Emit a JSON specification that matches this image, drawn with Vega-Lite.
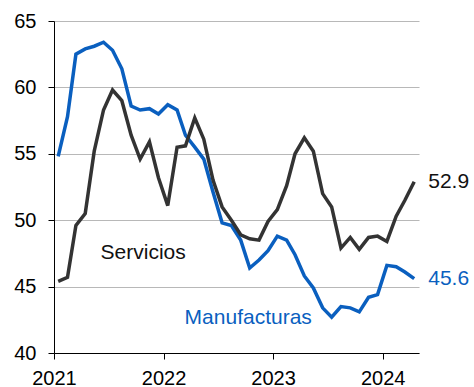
{
  "$schema": "https://vega.github.io/schema/vega-lite/v6.json",
  "width": 365,
  "height": 332,
  "autosize": {"type": "none"},
  "padding": {"left": 54, "top": 21, "right": 55, "bottom": 34},
  "config": {"view": {"stroke": null}, "font": "Liberation Sans"},
  "datasets": {
    "series": [
      {"date": "2021-01-15", "serie": "Manufacturas", "value": 54.8},
      {"date": "2021-02-15", "serie": "Manufacturas", "value": 57.8},
      {"date": "2021-03-15", "serie": "Manufacturas", "value": 62.5},
      {"date": "2021-04-15", "serie": "Manufacturas", "value": 62.9},
      {"date": "2021-05-15", "serie": "Manufacturas", "value": 63.1},
      {"date": "2021-06-15", "serie": "Manufacturas", "value": 63.4},
      {"date": "2021-07-15", "serie": "Manufacturas", "value": 62.8},
      {"date": "2021-08-15", "serie": "Manufacturas", "value": 61.4},
      {"date": "2021-09-15", "serie": "Manufacturas", "value": 58.6},
      {"date": "2021-10-15", "serie": "Manufacturas", "value": 58.3},
      {"date": "2021-11-15", "serie": "Manufacturas", "value": 58.4},
      {"date": "2021-12-15", "serie": "Manufacturas", "value": 58.0},
      {"date": "2022-01-15", "serie": "Manufacturas", "value": 58.7},
      {"date": "2022-02-15", "serie": "Manufacturas", "value": 58.3},
      {"date": "2022-03-15", "serie": "Manufacturas", "value": 56.4},
      {"date": "2022-04-15", "serie": "Manufacturas", "value": 55.5},
      {"date": "2022-05-15", "serie": "Manufacturas", "value": 54.6},
      {"date": "2022-06-15", "serie": "Manufacturas", "value": 52.1},
      {"date": "2022-07-15", "serie": "Manufacturas", "value": 49.8},
      {"date": "2022-08-15", "serie": "Manufacturas", "value": 49.6},
      {"date": "2022-09-15", "serie": "Manufacturas", "value": 48.5},
      {"date": "2022-10-15", "serie": "Manufacturas", "value": 46.4},
      {"date": "2022-11-15", "serie": "Manufacturas", "value": 47.0},
      {"date": "2022-12-15", "serie": "Manufacturas", "value": 47.7},
      {"date": "2023-01-15", "serie": "Manufacturas", "value": 48.8},
      {"date": "2023-02-15", "serie": "Manufacturas", "value": 48.5},
      {"date": "2023-03-15", "serie": "Manufacturas", "value": 47.4},
      {"date": "2023-04-15", "serie": "Manufacturas", "value": 45.8},
      {"date": "2023-05-15", "serie": "Manufacturas", "value": 44.9},
      {"date": "2023-06-15", "serie": "Manufacturas", "value": 43.4},
      {"date": "2023-07-15", "serie": "Manufacturas", "value": 42.7},
      {"date": "2023-08-15", "serie": "Manufacturas", "value": 43.5},
      {"date": "2023-09-15", "serie": "Manufacturas", "value": 43.4},
      {"date": "2023-10-15", "serie": "Manufacturas", "value": 43.1},
      {"date": "2023-11-15", "serie": "Manufacturas", "value": 44.2},
      {"date": "2023-12-15", "serie": "Manufacturas", "value": 44.4},
      {"date": "2024-01-15", "serie": "Manufacturas", "value": 46.6},
      {"date": "2024-02-15", "serie": "Manufacturas", "value": 46.5},
      {"date": "2024-03-15", "serie": "Manufacturas", "value": 46.1},
      {"date": "2024-04-15", "serie": "Manufacturas", "value": 45.6},
      {"date": "2021-01-15", "serie": "Servicios", "value": 45.4},
      {"date": "2021-02-15", "serie": "Servicios", "value": 45.7},
      {"date": "2021-03-15", "serie": "Servicios", "value": 49.6},
      {"date": "2021-04-15", "serie": "Servicios", "value": 50.5},
      {"date": "2021-05-15", "serie": "Servicios", "value": 55.2},
      {"date": "2021-06-15", "serie": "Servicios", "value": 58.3},
      {"date": "2021-07-15", "serie": "Servicios", "value": 59.8},
      {"date": "2021-08-15", "serie": "Servicios", "value": 59.0},
      {"date": "2021-09-15", "serie": "Servicios", "value": 56.4},
      {"date": "2021-10-15", "serie": "Servicios", "value": 54.6},
      {"date": "2021-11-15", "serie": "Servicios", "value": 55.9},
      {"date": "2021-12-15", "serie": "Servicios", "value": 53.2},
      {"date": "2022-01-15", "serie": "Servicios", "value": 51.1},
      {"date": "2022-02-15", "serie": "Servicios", "value": 55.5},
      {"date": "2022-03-15", "serie": "Servicios", "value": 55.6},
      {"date": "2022-04-15", "serie": "Servicios", "value": 57.7},
      {"date": "2022-05-15", "serie": "Servicios", "value": 56.1},
      {"date": "2022-06-15", "serie": "Servicios", "value": 53.0},
      {"date": "2022-07-15", "serie": "Servicios", "value": 51.0},
      {"date": "2022-08-15", "serie": "Servicios", "value": 50.0},
      {"date": "2022-09-15", "serie": "Servicios", "value": 48.9},
      {"date": "2022-10-15", "serie": "Servicios", "value": 48.6},
      {"date": "2022-11-15", "serie": "Servicios", "value": 48.5},
      {"date": "2022-12-15", "serie": "Servicios", "value": 49.9},
      {"date": "2023-01-15", "serie": "Servicios", "value": 50.8},
      {"date": "2023-02-15", "serie": "Servicios", "value": 52.6},
      {"date": "2023-03-15", "serie": "Servicios", "value": 55.0},
      {"date": "2023-04-15", "serie": "Servicios", "value": 56.2},
      {"date": "2023-05-15", "serie": "Servicios", "value": 55.2},
      {"date": "2023-06-15", "serie": "Servicios", "value": 52.0},
      {"date": "2023-07-15", "serie": "Servicios", "value": 51.0},
      {"date": "2023-08-15", "serie": "Servicios", "value": 47.9},
      {"date": "2023-09-15", "serie": "Servicios", "value": 48.7},
      {"date": "2023-10-15", "serie": "Servicios", "value": 47.8},
      {"date": "2023-11-15", "serie": "Servicios", "value": 48.7},
      {"date": "2023-12-15", "serie": "Servicios", "value": 48.8},
      {"date": "2024-01-15", "serie": "Servicios", "value": 48.4},
      {"date": "2024-02-15", "serie": "Servicios", "value": 50.3},
      {"date": "2024-03-15", "serie": "Servicios", "value": 51.5},
      {"date": "2024-04-15", "serie": "Servicios", "value": 52.9}
    ],
    "names": [
      {"date": "2021-10-25", "serie": "Servicios", "value": 47.5, "label": "Servicios"},
      {"date": "2022-10-10", "serie": "Manufacturas", "value": 42.6, "label": "Manufacturas"}
    ]
  },
  "layer": [
    {
      "data": {"name": "series"},
      "mark": {"type": "line", "strokeWidth": 3.5, "strokeJoin": "miter"},
      "encoding": {
        "x": {
          "field": "date",
          "type": "temporal",
          "scale": {"domain": [{"year": 2021, "month": 1, "date": 1}, {"year": 2024, "month": 5, "date": 1}]},
          "axis": {
            "title": null,
            "grid": false,
            "values": [{"year": 2021, "month": 1, "date": 1}, {"year": 2022, "month": 1, "date": 1}, {"year": 2023, "month": 1, "date": 1}, {"year": 2024, "month": 1, "date": 1}],
            "format": "%Y",
            "labelFontSize": 20,
            "labelColor": "#000000",
            "labelPadding": 9,
            "tickSize": 6,
            "tickColor": "#000000",
            "domainColor": "#000000",
            "labelFlush": false
          }
        },
        "y": {
          "field": "value",
          "type": "quantitative",
          "scale": {"domain": [40, 65], "nice": false, "zero": false},
          "axis": {
            "title": null,
            "values": [40, 45, 50, 55, 60, 65],
            "labelFontSize": 20,
            "labelColor": "#000000",
            "labelPadding": 12,
            "tickSize": 6,
            "tickColor": "#000000",
            "domainColor": "#000000",
            "gridColor": "#b8b8b8",
            "gridWidth": 1.2
          }
        },
        "color": {
          "field": "serie",
          "type": "nominal",
          "scale": {"domain": ["Manufacturas", "Servicios"], "range": ["#0A5FBF", "#333333"]},
          "legend": null
        }
      }
    },
    {
      "data": {"name": "series"},
      "transform": [{"filter": "year(datum.date) == 2024 && month(datum.date) == 3"}],
      "mark": {"type": "text", "align": "left", "baseline": "middle", "dx": 14, "fontSize": 21},
      "encoding": {
        "x": {"field": "date", "type": "temporal"},
        "y": {"field": "value", "type": "quantitative"},
        "text": {"field": "value", "type": "quantitative", "format": ".1f"},
        "color": {"condition": {"test": "datum.serie == 'Manufacturas'", "value": "#0A5FBF"}, "value": "#111111"}
      }
    },
    {
      "data": {"name": "names"},
      "mark": {"type": "text", "align": "center", "baseline": "middle", "fontSize": 21},
      "encoding": {
        "x": {"field": "date", "type": "temporal"},
        "y": {"field": "value", "type": "quantitative"},
        "text": {"field": "label"},
        "color": {"condition": {"test": "datum.serie == 'Manufacturas'", "value": "#0A5FBF"}, "value": "#111111"}
      }
    }
  ]
}
